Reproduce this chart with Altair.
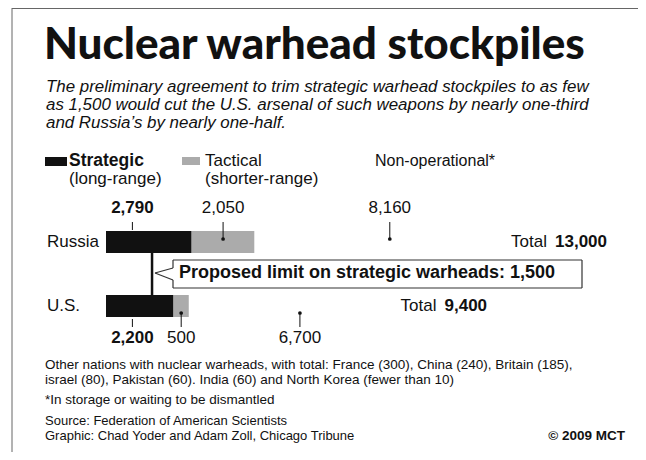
import altair as alt
import pandas as pd

# ---------------- data ----------------
countries = ["Russia", "U.S."]
categories = ["Strategic", "Tactical", "Non-operational"]
strategic = [2790, 2200]
tactical = [2050, 500]
non_operational = [8160, 6700]
totals = [13000, 9400]
proposed_limit = 1500
colors = ["#111111", "#ababab", "#ffffff"]

title = "Nuclear warhead stockpiles"
subtitle = [
    "The preliminary agreement to trim strategic warhead stockpiles to as few",
    "as 1,500 would cut the U.S. arsenal of such weapons by nearly one-third",
    "and Russia\u2019s by nearly one-half.",
]
footer_other = [
    "Other nations with nuclear warheads, with total: France (300), China (240), Britain (185),",
    "israel (80), Pakistan (60). India (60) and North Korea (fewer than 10)",
]
footnote = "*In storage or waiting to be dismantled"
source = ["Source: Federation of American Scientists",
          "Graphic: Chad Yoder and Adam Zoll, Chicago Tribune"]
credit = "\u00a9 2009 MCT"
callout = "Proposed limit on strategic warheads: 1,500"

# ---------------- tables ----------------
rows = []
for i, c in enumerate(countries):
    start = 0
    for cat, vals in zip(categories, [strategic, tactical, non_operational]):
        v = vals[i]
        if cat == "Strategic":
            anchor = 860
        elif cat == "Tactical":
            anchor = start + v / 2
        else:
            anchor = start + v * 0.54
        rows.append(dict(country=c, category=cat, value=v, start=start, end=start + v,
                         anchor=anchor, label=f"{v:,}"))
        start += v
bars = pd.DataFrame(rows)
tot = pd.DataFrame({"country": countries, "total": totals,
                    "tlabel": [f"{t:,}" for t in totals]})
lim = pd.DataFrame({"limit": [proposed_limit]})

FONT = "Liberation Sans"
XS = alt.Scale(domain=[0, max(totals)], range=[98, 497], nice=False)
YS = alt.Scale(type="point", domain=countries, range=[234, 298], padding=0)


def txt(s, x, y, size=16, weight="normal", style="normal", align="left",
        baseline="middle", font=FONT, color="#111111"):
    return alt.Chart(pd.DataFrame({"t": [s]})).mark_text(
        align=align, baseline=baseline, fontSize=size, fontWeight=weight,
        fontStyle=style, font=font, color=color
    ).encode(text="t:N", x=alt.value(x), y=alt.value(y))


def seg(x1, y1, x2, y2, color="#333333", w=1.2):
    return alt.Chart(pd.DataFrame({"a": [0]})).mark_rule(
        color=color, strokeWidth=w
    ).encode(x=alt.value(x1), y=alt.value(y1), x2=alt.value(x2), y2=alt.value(y2))


layers = []
# frame
layers.append(seg(4, 0.5, 630, 0.5, color="#666666", w=1))
layers.append(seg(4, 0, 4, 444, color="#666666", w=1))

# title + subtitle
layers.append(txt(title, 36, 51, size=44, weight=900, baseline="alphabetic", font="Lato"))
for k, line in enumerate(subtitle):
    layers.append(txt(line, 38, 84 + 18 * k, size=16.9, style="italic", baseline="alphabetic"))

# legend
layers.append(alt.Chart(pd.DataFrame({"a": [0]})).mark_rect(color=colors[0]).encode(
    x=alt.value(37), x2=alt.value(59), y=alt.value(149), y2=alt.value(158)))
layers.append(alt.Chart(pd.DataFrame({"a": [0]})).mark_rect(color=colors[1]).encode(
    x=alt.value(174), x2=alt.value(192), y=alt.value(149), y2=alt.value(157)))
layers.append(txt("Strategic", 61, 153, size=17.5, weight="bold"))
layers.append(txt("(long-range)", 61, 171, size=17))
layers.append(txt("Tactical", 197, 153, size=17))
layers.append(txt("(shorter-range)", 197, 171, size=17))
layers.append(txt("Non-operational*", 367, 153, size=16))

# bars
layers.append(alt.Chart(bars).mark_bar(size=22).encode(
    x=alt.X("start:Q", scale=XS, axis=None),
    x2="end:Q",
    y=alt.Y("country:N", scale=YS, axis=None),
    color=alt.Color("category:N", scale=alt.Scale(domain=categories, range=colors), legend=None),
))

# limit line
layers.append(alt.Chart(lim).mark_rule(color="#111111", strokeWidth=2.5).encode(
    x=alt.X("limit:Q", scale=XS, axis=None), y=alt.value(245), y2=alt.value(287)))

# callout box
layers.append(seg(165, 252, 574, 252))
layers.append(seg(574, 252, 574, 280))
layers.append(seg(165, 280, 574, 280))
layers.append(seg(165, 252, 165, 260))
layers.append(seg(165, 260, 147, 265))
layers.append(seg(147, 265, 165, 272))
layers.append(seg(165, 272, 165, 280))
layers.append(txt(callout, 171, 265, size=18, weight="bold"))

# value labels, ticks and dots
for c, ly, t1, t2 in [("Russia", 200, 214, 231), ("U.S.", 330, 319, 305)]:
    sub = alt.Chart(bars).transform_filter(alt.datum.country == c)
    strat = sub.transform_filter(alt.datum.category == "Strategic")
    rest = sub.transform_filter(alt.datum.category != "Strategic")
    layers.append(strat.mark_text(fontSize=17, font=FONT, fontWeight="bold",
                                  color="#111111", baseline="middle").encode(
        x=alt.X("anchor:Q", scale=XS, axis=None), y=alt.value(ly), text="label:N"))
    layers.append(rest.mark_text(fontSize=17, font=FONT, color="#111111",
                                 baseline="middle").encode(
        x=alt.X("anchor:Q", scale=XS, axis=None), y=alt.value(ly), text="label:N"))
    tick_end = 222 if c == "Russia" else 311
    layers.append(strat.mark_rule(color="#111111", strokeWidth=1).encode(
        x=alt.X("anchor:Q", scale=XS, axis=None), y=alt.value(t1),
        y2=alt.value(tick_end)))
    layers.append(rest.mark_rule(color="#111111", strokeWidth=1).encode(
        x=alt.X("anchor:Q", scale=XS, axis=None), y=alt.value(t1), y2=alt.value(t2)))
    layers.append(rest.mark_point(filled=True, size=14, color="#111111", opacity=1).encode(
        x=alt.X("anchor:Q", scale=XS, axis=None), y=alt.value(t2)))

# country names
layers.append(alt.Chart(pd.DataFrame({"country": countries})).mark_text(
    align="left", baseline="middle", fontSize=17, font=FONT, color="#111111").encode(
    x=alt.value(39), y=alt.Y("country:N", scale=YS, axis=None), text="country:N"))

# totals
layers.append(alt.Chart(tot).mark_text(align="left", baseline="middle", fontSize=17,
                                       font=FONT, color="#111111", dx=6).encode(
    x=alt.X("total:Q", scale=XS, axis=None), y=alt.Y("country:N", scale=YS, axis=None),
    text=alt.value("Total")))
layers.append(alt.Chart(tot).mark_text(align="left", baseline="middle", fontSize=17,
                                       font=FONT, fontWeight="bold", color="#111111", dx=50).encode(
    x=alt.X("total:Q", scale=XS, axis=None), y=alt.Y("country:N", scale=YS, axis=None),
    text="tlabel:N"))

# footer
layers.append(txt(footer_other[0], 37, 357, size=13.5))
layers.append(txt(footer_other[1], 37, 372, size=13.5))
layers.append(txt(footnote, 37, 392, size=13.5))
layers.append(txt(source[0], 37, 413, size=13))
layers.append(txt(source[1], 37, 427.5, size=13))
layers.append(txt(credit, 617, 427.5, size=13.5, weight="bold", align="right"))

chart = alt.layer(*layers).properties(
    width=630, height=444, padding=0,
    autosize=alt.AutoSizeParams(type="none"),
).configure_view(stroke=None)

chart.save("out.html", embed_options={"renderer": "svg", "actions": False})
